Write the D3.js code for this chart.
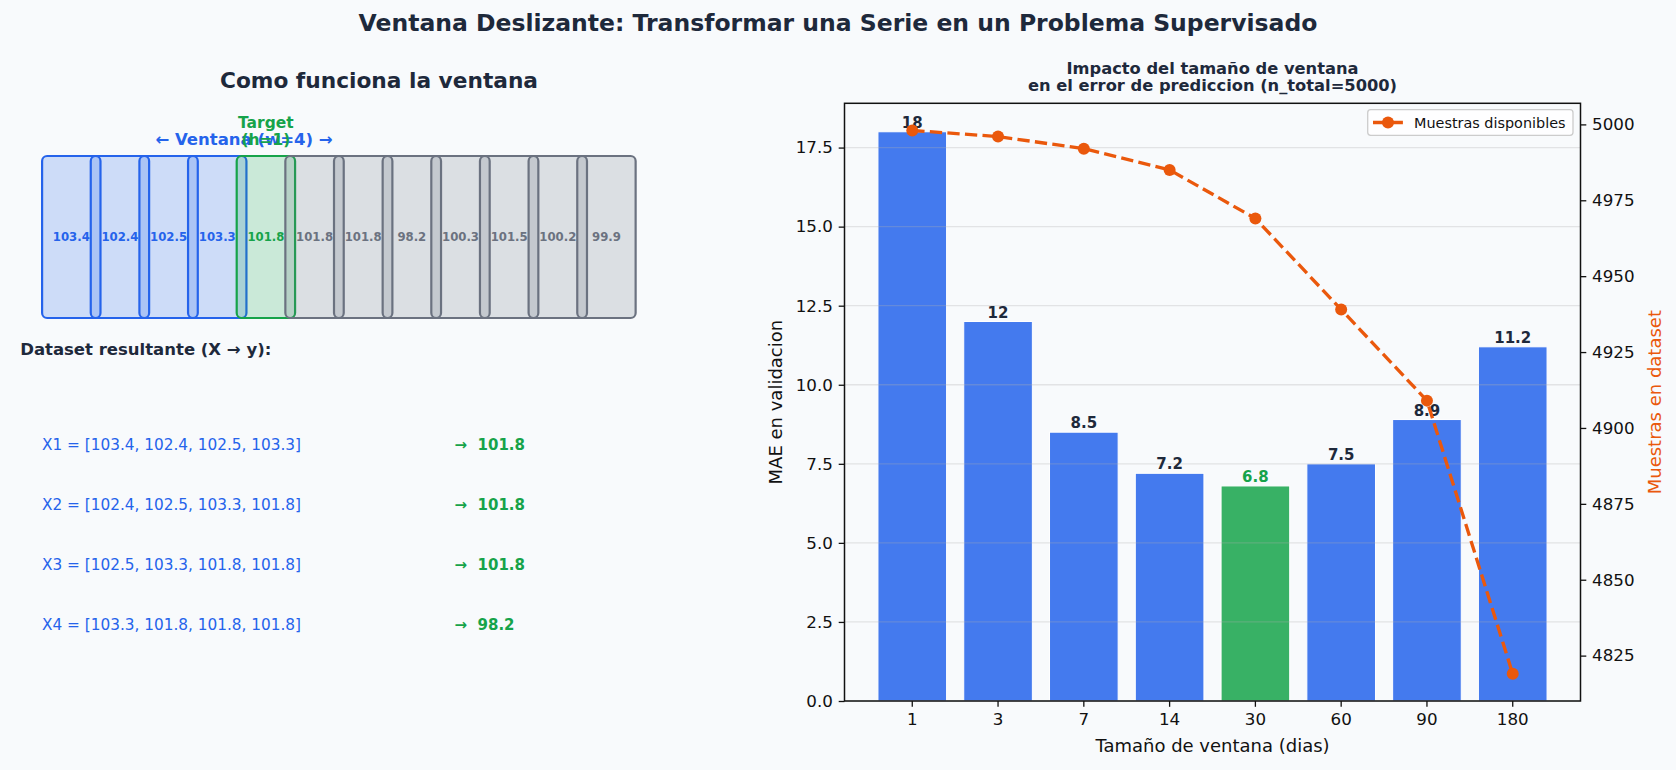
<!DOCTYPE html>
<html>
<head>
<meta charset="utf-8">
<script src="https://cdn.jsdelivr.net/npm/d3@7"></script>
<style>
  body { margin: 0; background: #f8fafc; }
  svg { display: block; font-family: "DejaVu Sans", sans-serif; }
</style>
</head>
<body>
<svg id="chart" width="1676" height="770"></svg>
<script>
// --- data ---
var seriesValues = [103.4, 102.4, 102.5, 103.3, 101.8, 101.8, 101.8, 98.2, 100.3, 101.5, 100.2, 99.9];
var windowSize = 4,
    horizon = 1,
    rowsShown = 4;

var windowSizes = ["1", "3", "7", "14", "30", "60", "90", "180"];
var maeValues = [18, 12, 8.5, 7.2, 6.8, 7.5, 8.9, 11.2];
var samplesAvail = [4998, 4996, 4992, 4985, 4969, 4939, 4909, 4819];
var bestWindow = "30";

var maeTicks = [0, 2.5, 5, 7.5, 10, 12.5, 15, 17.5];
var sampleTicks = [4825, 4850, 4875, 4900, 4925, 4950, 4975, 5000];
//

var blue = "#2563eb", green = "#16a34a", gray = "#6b7280",
    orange = "#ea580c", dark = "#1e293b", ink = "#111";

var svg = d3.select("#chart");
svg.append("rect").attr("width", 1676).attr("height", 770).attr("fill", "#f8fafc");

// main title
svg.append("text")
    .attr("x", 838).attr("y", 31)
    .attr("text-anchor", "middle")
    .style("font-size", "23.5px").style("font-weight", "bold")
    .attr("fill", dark)
    .text("Ventana Deslizante: Transformar una Serie en un Problema Supervisado");

// ---------- left panel: how the window works ----------
var left = svg.append("g");

left.append("text")
    .attr("x", 379).attr("y", 88.3)
    .attr("text-anchor", "middle")
    .style("font-size", "21.7px").style("font-weight", "bold")
    .attr("fill", dark)
    .text("Como funciona la ventana");

// box positions: one unit per value
var xs = d3.scaleLinear().domain([0, seriesValues.length]).range([49.4, 49.4 + 48.65 * seriesValues.length]);
var boxTop = 156, boxBottom = 318;

function boxColor(i) {
    if (i < windowSize) return blue;
    if (i < windowSize + horizon) return green;
    return gray;
}

var boxes = left.selectAll("g.box")
    .data(seriesValues)
    .enter().append("g").attr("class", "box");

boxes.append("rect")
    .attr("x", function(d, i) { return xs(i - 0.15); })
    .attr("y", boxTop)
    .attr("width", function(d, i) { return xs(i + 1.05) - xs(i - 0.15); })
    .attr("height", boxBottom - boxTop)
    .attr("rx", 5).attr("ry", 5)
    .attr("fill", function(d, i) { return boxColor(i); })
    .attr("fill-opacity", 0.2)
    .attr("stroke", function(d, i) { return boxColor(i); })
    .attr("stroke-width", 2.2);

boxes.append("text")
    .attr("x", function(d, i) { return xs(i + 0.45); })
    .attr("y", (boxTop + boxBottom) / 2 + 4.3)
    .attr("text-anchor", "middle")
    .style("font-size", "11.7px").style("font-weight", "bold")
    .attr("fill", function(d, i) { return boxColor(i); })
    .text(function(d) { return d; });

left.append("text")
    .attr("x", xs(windowSize)).attr("y", 145.3)
    .attr("text-anchor", "middle")
    .style("font-size", "16.5px").style("font-weight", "bold")
    .attr("fill", blue)
    .text("\u2190 Ventana (w=" + windowSize + ") \u2192");

var tgt = left.append("text")
    .attr("text-anchor", "middle")
    .style("font-size", "15.5px").style("font-weight", "bold")
    .attr("fill", green);
tgt.append("tspan").attr("x", xs(windowSize + 0.45)).attr("y", 128.4).text("Target");
tgt.append("tspan").attr("x", xs(windowSize + 0.45)).attr("y", 145).text("(h=" + horizon + ")");

left.append("text")
    .attr("x", 20.2).attr("y", 355.3)
    .style("font-size", "16.5px").style("font-weight", "bold")
    .attr("fill", dark)
    .text("Dataset resultante (X \u2192 y):");

for (var r = 0; r < rowsShown; r++) {
    var xwin = seriesValues.slice(r, r + windowSize),
        yval = seriesValues[r + windowSize];
    var ry = 449.8 + r * 60;
    left.append("text")
        .attr("x", 42).attr("y", ry)
        .style("font-size", "15.3px")
        .attr("fill", blue)
        .text("X" + (r + 1) + " = [" + xwin.join(", ") + "]");
    left.append("text")
        .attr("x", 454.5).attr("y", ry)
        .style("font-size", "15px").style("font-weight", "bold")
        .attr("fill", green)
        .style("white-space", "pre")
        .text("\u2192  " + yval);
}

// ---------- right panel: window size vs error ----------
var plot = { left: 844.5, right: 1580.5, top: 103.3, bottom: 701 };

var x = d3.scaleBand()
    .domain(windowSizes)
    .range([plot.left, plot.right])
    .paddingInner(0.2)
    .paddingOuter(0.39);

var yL = d3.scaleLinear().domain([0, d3.max(maeValues) * 1.05]).range([plot.bottom, plot.top]);
var yR = d3.scaleLinear().domain([4810.05, 5006.95]).range([plot.bottom, plot.top]);

var right = svg.append("g");

right.append("text")
    .attr("text-anchor", "middle")
    .style("font-size", "16.3px").style("font-weight", "bold")
    .attr("fill", dark)
    .selectAll("tspan")
    .data(["Impacto del tama\u00f1o de ventana", "en el error de prediccion (n_total=5000)"])
    .enter().append("tspan")
    .attr("x", (plot.left + plot.right) / 2)
    .attr("y", function(d, i) { return 74 + i * 17.2; })
    .text(function(d) { return d; });

// bars
right.selectAll("rect.bar")
    .data(maeValues)
    .enter().append("rect").attr("class", "bar")
    .attr("x", function(d, i) { return x(windowSizes[i]); })
    .attr("width", x.bandwidth())
    .attr("y", function(d) { return yL(d); })
    .attr("height", function(d) { return yL(0) - yL(d); })
    .attr("fill", function(d, i) { return windowSizes[i] == bestWindow ? green : blue; })
    .attr("fill-opacity", 0.85)
    .attr("stroke", "white")
    .attr("stroke-width", 1);

// grid (drawn over bars like matplotlib)
right.selectAll("line.grid")
    .data(maeTicks)
    .enter().append("line").attr("class", "grid")
    .attr("x1", plot.left).attr("x2", plot.right)
    .attr("y1", function(d) { return yL(d); })
    .attr("y2", function(d) { return yL(d); })
    .attr("stroke", "#b0b0b0")
    .attr("stroke-opacity", 0.3)
    .attr("stroke-width", 1.3);

// bar labels
right.selectAll("text.barlab")
    .data(maeValues)
    .enter().append("text").attr("class", "barlab")
    .attr("x", function(d, i) { return x(windowSizes[i]) + x.bandwidth() / 2; })
    .attr("y", function(d) { return yL(d) - 4; })
    .attr("text-anchor", "middle")
    .style("font-size", "15px").style("font-weight", "bold")
    .attr("fill", function(d, i) { return windowSizes[i] == bestWindow ? green : dark; })
    .text(function(d) { return d; });

// axes
var axL = right.append("g")
    .attr("transform", "translate(" + plot.left + ",0)")
    .call(d3.axisLeft(yL).tickValues(maeTicks).tickFormat(d3.format(".1f")).tickSize(5.8).tickPadding(5.8));
var axR = right.append("g")
    .attr("transform", "translate(" + plot.right + ",0)")
    .call(d3.axisRight(yR).tickValues(sampleTicks).tickFormat(d3.format("d")).tickSize(5.8).tickPadding(5.8));
var axB = right.append("g")
    .attr("transform", "translate(0," + plot.bottom + ")")
    .call(d3.axisBottom(x).tickSize(5.8).tickPadding(6.8));

[axL, axR, axB].forEach(function(a) {
    a.select(".domain").remove();
    a.selectAll("line").attr("stroke", ink).attr("stroke-width", 1.3);
    a.selectAll("text").attr("fill", ink).style("font-size", "16.7px").attr("font-family", "DejaVu Sans");
});

// samples line
var pts = samplesAvail.map(function(d, i) {
    return [x(windowSizes[i]) + x.bandwidth() / 2, yR(d)];
});
right.append("path")
    .attr("d", d3.line()(pts))
    .attr("fill", "none")
    .attr("stroke", orange)
    .attr("stroke-width", 3.33)
    .attr("stroke-dasharray", "12.3,5.3");
right.selectAll("circle.pt")
    .data(pts)
    .enter().append("circle").attr("class", "pt")
    .attr("cx", function(d) { return d[0]; })
    .attr("cy", function(d) { return d[1]; })
    .attr("r", 6)
    .attr("fill", orange);

// frame
right.append("rect")
    .attr("x", plot.left).attr("y", plot.top)
    .attr("width", plot.right - plot.left).attr("height", plot.bottom - plot.top)
    .attr("fill", "none").attr("stroke", ink).attr("stroke-width", 1.5);

// axis labels
right.append("text")
    .attr("x", (plot.left + plot.right) / 2).attr("y", 752)
    .attr("text-anchor", "middle")
    .style("font-size", "18px").attr("fill", ink)
    .text("Tama\u00f1o de ventana (dias)");
right.append("text")
    .attr("transform", "translate(781.5," + (plot.top + plot.bottom) / 2 + ") rotate(-90)")
    .attr("text-anchor", "middle")
    .style("font-size", "18px").attr("fill", ink)
    .text("MAE en validacion");
right.append("text")
    .attr("transform", "translate(1660.5," + (plot.top + plot.bottom) / 2 + ") rotate(-90)")
    .attr("text-anchor", "middle")
    .style("font-size", "18px").attr("fill", orange)
    .text("Muestras en dataset");

// legend
var lg = right.append("g");
lg.append("rect")
    .attr("x", 1367.7).attr("y", 109.7)
    .attr("width", 205.3).attr("height", 25.6)
    .attr("rx", 3)
    .attr("fill", "white").attr("fill-opacity", 0.8)
    .attr("stroke", "#cccccc").attr("stroke-width", 1.3);
lg.append("line")
    .attr("x1", 1373).attr("x2", 1403)
    .attr("y1", 122.5).attr("y2", 122.5)
    .attr("stroke", orange).attr("stroke-width", 3.33)
    .attr("stroke-dasharray", "12.3,5.3");
lg.append("circle")
    .attr("cx", 1388).attr("cy", 122.5).attr("r", 6).attr("fill", orange);
lg.append("text")
    .attr("x", 1414).attr("y", 127.6)
    .style("font-size", "14.4px").attr("fill", ink)
    .text("Muestras disponibles");
</script>
</body>
</html>
